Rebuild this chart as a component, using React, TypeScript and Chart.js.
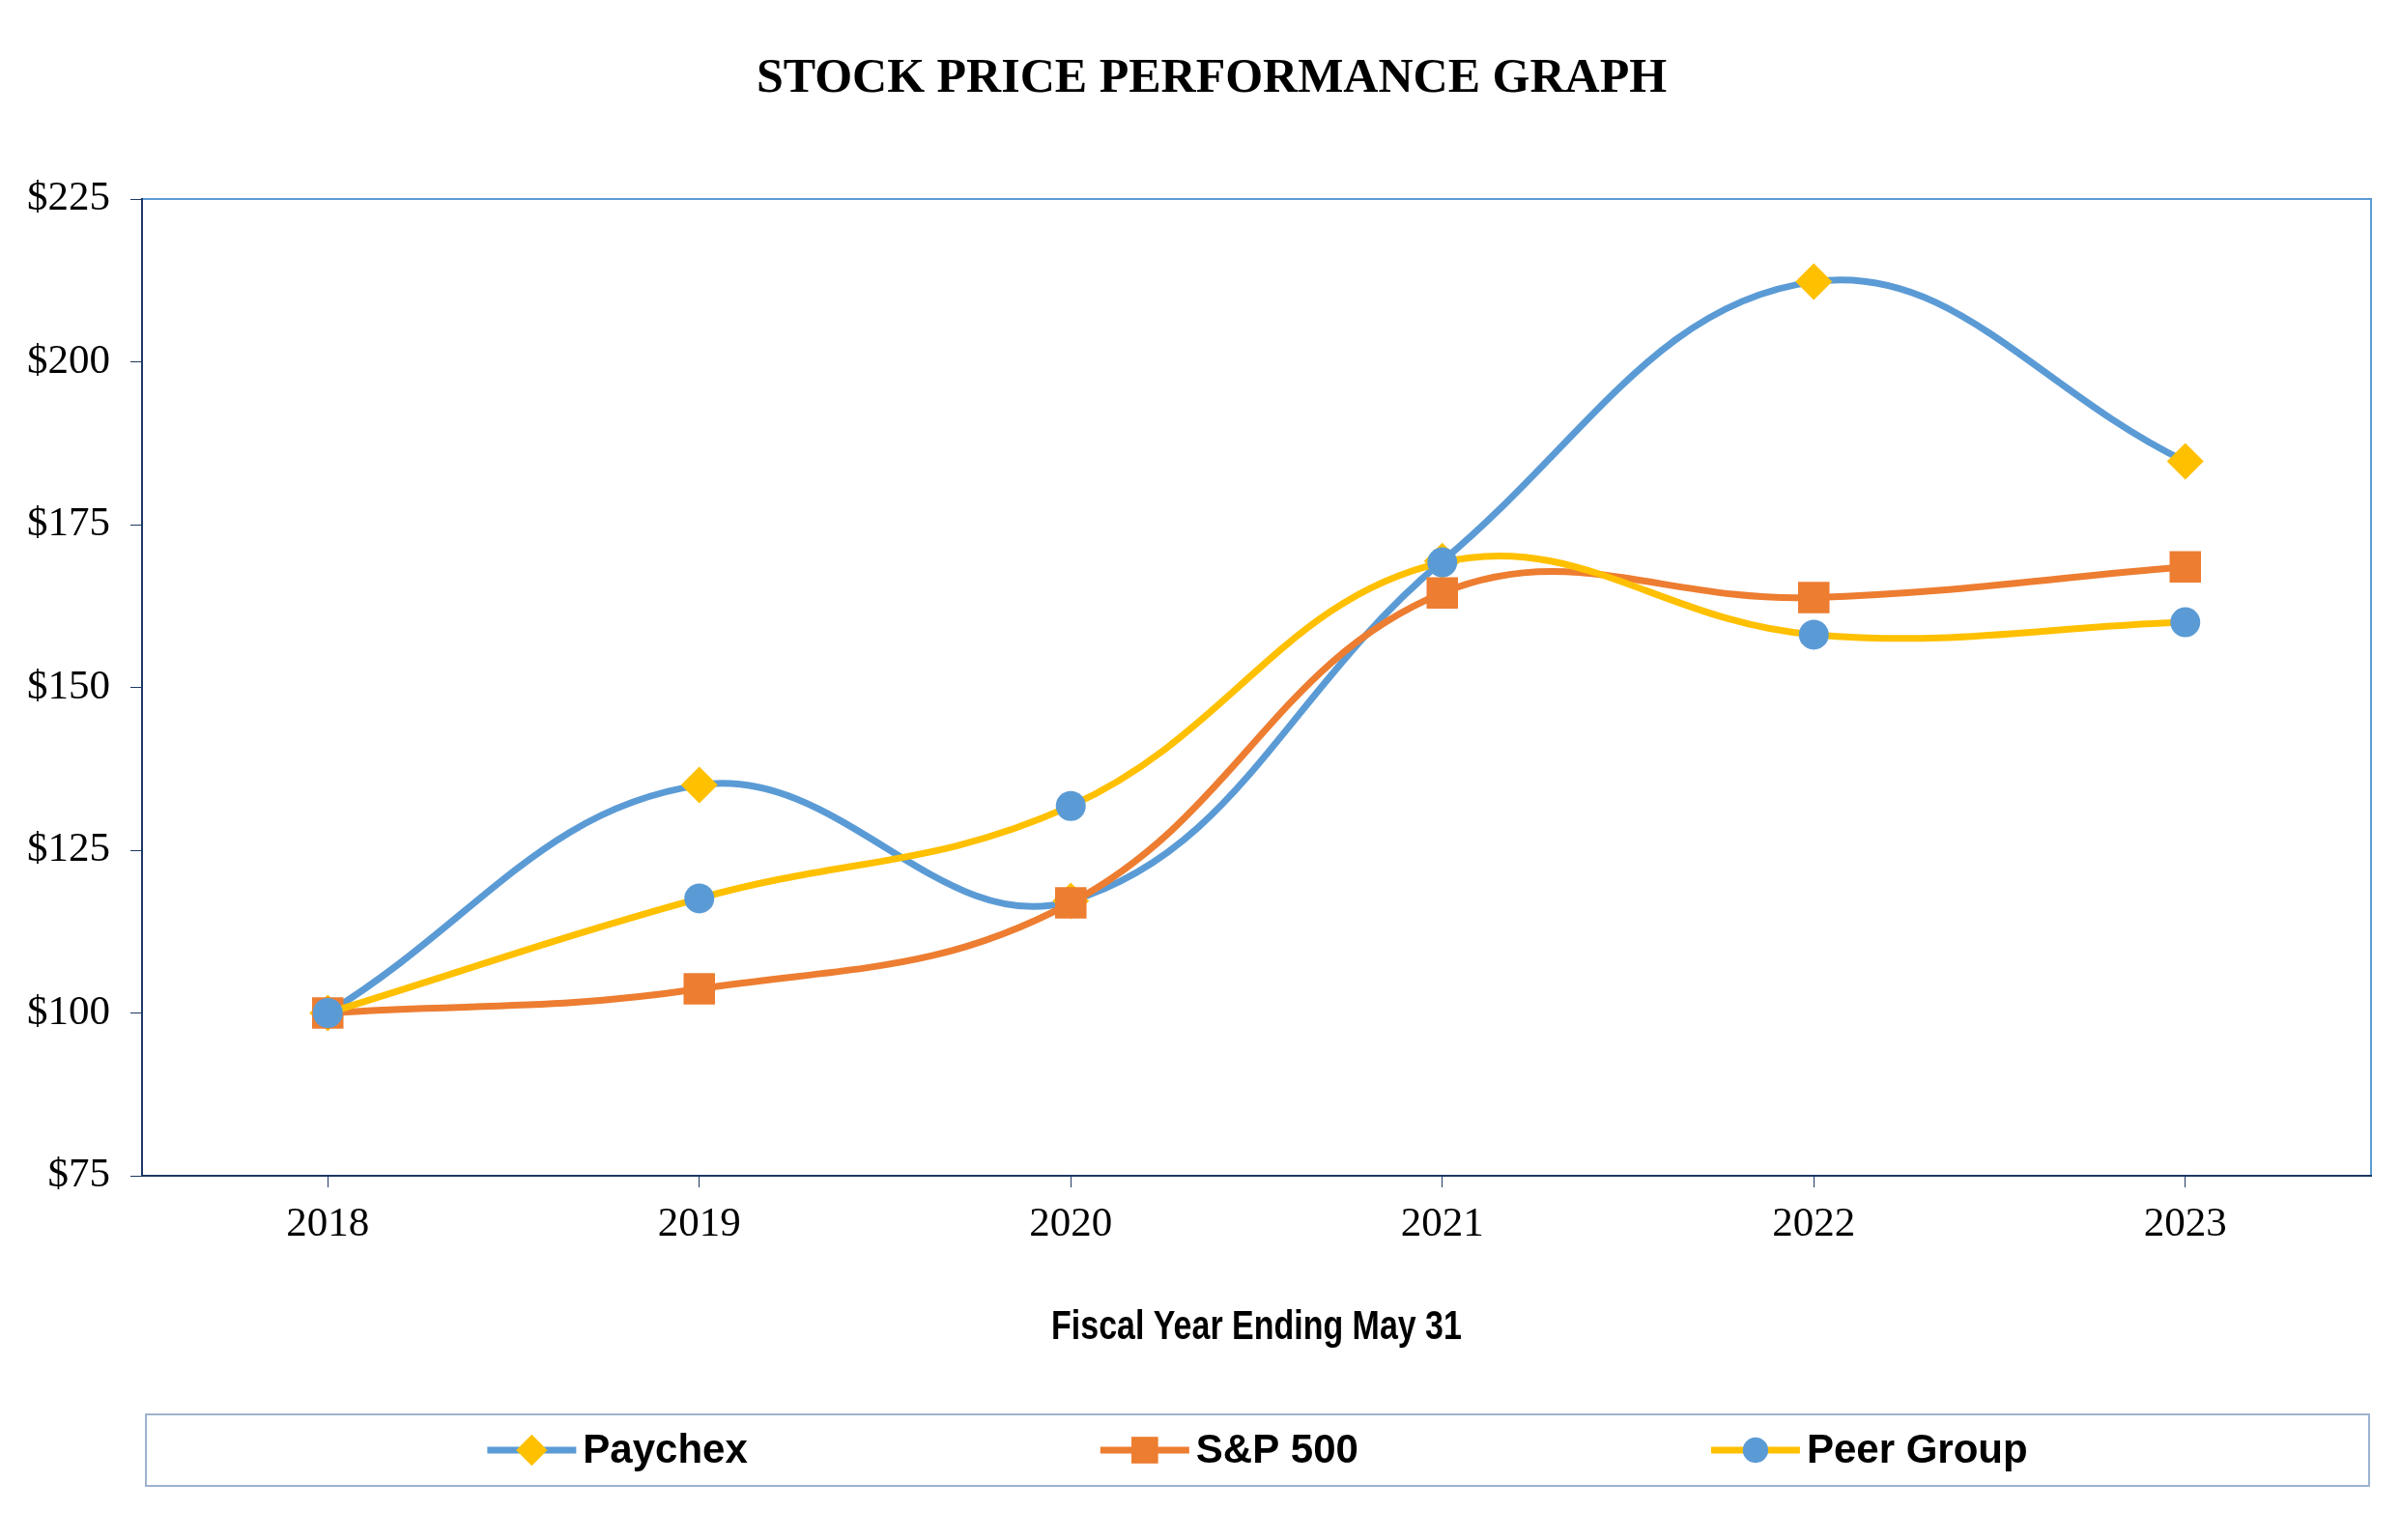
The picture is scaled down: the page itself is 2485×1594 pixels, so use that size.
import React, { useEffect, useRef } from 'react';
import { Chart, registerables } from 'chart.js';

Chart.register(...registerables);

const years = ['2018', '2019', '2020', '2021', '2022', '2023'];
const paychex = [100, 135.0, 117.2, 169.4, 212.3, 184.7];
const sp500 = [100, 103.7, 116.9, 164.5, 163.8, 168.5];
const peerGroup = [100, 117.6, 131.8, 169.2, 158.1, 160.0];
const yTickValues = [75, 100, 125, 150, 175, 200, 225];
const seriesNames = ['Paychex', 'S&P 500', 'Peer Group'];
const chartTitle = 'STOCK PRICE PERFORMANCE GRAPH';
const xAxisTitle = 'Fiscal Year Ending May 31';

const BLUE = '#5B9BD5';
const ORANGE = '#ED7D31';
const GOLD = '#FFC000';
const NAVY = '#1F3864';
const SERIF = '"Liberation Serif", "Times New Roman", serif';
const SANS = '"Liberation Sans", Arial, sans-serif';

function drawMarker(ctx: CanvasRenderingContext2D, style: string, x: number, y: number, r: number, color: string) {
  ctx.save();
  ctx.fillStyle = color;
  ctx.beginPath();
  if (style === 'rectRot') {
    ctx.moveTo(x, y - r);
    ctx.lineTo(x + r, y);
    ctx.lineTo(x, y + r);
    ctx.lineTo(x - r, y);
    ctx.closePath();
  } else if (style === 'rect') {
    const s = r * Math.SQRT1_2;
    ctx.rect(x - s, y - s, 2 * s, 2 * s);
  } else {
    ctx.arc(x, y, r, 0, Math.PI * 2);
  }
  ctx.fill();
  ctx.restore();
}

const decorPlugin = {
  id: 'decor',
  beforeDraw(chart: any) {
    const { ctx, chartArea: a } = chart;
    ctx.save();
    ctx.fillStyle = '#ffffff';
    ctx.fillRect(0, 0, chart.width, chart.height);
    ctx.strokeStyle = BLUE;
    ctx.lineWidth = 2;
    ctx.strokeRect(a.left, a.top, a.right - a.left, a.bottom - a.top);
    ctx.restore();
  },
  afterDraw(chart: any) {
    const { ctx, chartArea: a } = chart;
    ctx.save();
    // Title
    ctx.fillStyle = '#000';
    ctx.textAlign = 'center';
    ctx.textBaseline = 'middle';
    ctx.font = `bold 50px ${SERIF}`;
    ctx.fillText(chartTitle, 1254, 82);
    // X axis title (condensed, like Arial Narrow)
    ctx.save();
    ctx.font = `bold 43px ${SANS}`;
    const cx = (a.left + a.right) / 2;
    ctx.translate(cx, 1374);
    ctx.scale(0.79, 1);
    ctx.fillText(xAxisTitle, 0, 0);
    ctx.restore();

    // Legend box
    const boxL = 151, boxR = 2452, boxT = 1464, boxB = 1538;
    ctx.strokeStyle = '#9DB3CF';
    ctx.lineWidth = 2;
    ctx.strokeRect(boxL, boxT, boxR - boxL, boxB - boxT);

    ctx.font = `bold 42px ${SANS}`;
    ctx.textAlign = 'left';
    const sample = 92, textGap = 7, itemGap = 365;
    const items = chart.data.datasets.map((ds: any) => ({
      ds,
      w: sample + textGap + ctx.measureText(ds.label).width,
    }));
    const total = items.reduce((s: number, it: any) => s + it.w, 0) + itemGap * (items.length - 1);
    let x = (boxL + boxR) / 2 - total / 2;
    const cy = (boxT + boxB) / 2;
    for (const it of items) {
      const ds = it.ds;
      ctx.strokeStyle = ds.borderColor;
      ctx.lineWidth = ds.borderWidth;
      ctx.beginPath();
      ctx.moveTo(x, cy);
      ctx.lineTo(x + sample, cy);
      ctx.stroke();
      drawMarker(ctx, ds.pointStyle, x + sample / 2, cy, ds.pointRadius * 0.85, ds.pointBackgroundColor);
      ctx.fillStyle = '#000';
      ctx.fillText(ds.label, x + sample + textGap, cy + 1);
      x += it.w + itemGap;
    }
    ctx.restore();
  },
};

export default function App() {
  const ref = useRef<HTMLCanvasElement | null>(null);

  useEffect(() => {
    if (!ref.current) return;
    const chart = new Chart(ref.current, {
      type: 'line',
      data: {
        labels: years,
        datasets: [
          {
            label: seriesNames[0],
            data: paychex,
            borderColor: BLUE,
            borderWidth: 7,
            pointStyle: 'rectRot',
            pointRadius: 19,
            pointBackgroundColor: GOLD,
            pointBorderColor: GOLD,
            pointBorderWidth: 0,
            tension: 0.4,
            order: 2,
          },
          {
            label: seriesNames[1],
            data: sp500,
            borderColor: ORANGE,
            borderWidth: 7,
            pointStyle: 'rect',
            pointRadius: 23,
            pointBackgroundColor: ORANGE,
            pointBorderColor: ORANGE,
            pointBorderWidth: 0,
            tension: 0.4,
            order: 1,
          },
          {
            label: seriesNames[2],
            data: peerGroup,
            borderColor: GOLD,
            borderWidth: 7,
            pointStyle: 'circle',
            pointRadius: 15.5,
            pointBackgroundColor: BLUE,
            pointBorderColor: BLUE,
            pointBorderWidth: 0,
            tension: 0.4,
            order: 0,
          },
        ] as any,
      },
      options: {
        responsive: false,
        animation: false,
        devicePixelRatio: 1,
        layout: { padding: { top: 206, left: 0, right: 31, bottom: 0 } },
        plugins: {
          legend: { display: false },
          title: { display: false },
          tooltip: { enabled: false },
        },
        scales: {
          x: {
            type: 'category',
            offset: true,
            grid: {
              offset: false,
              drawOnChartArea: false,
              drawTicks: true,
              tickLength: 12,
              tickColor: NAVY,
              tickWidth: 1,
            },
            border: { color: NAVY, width: 2 },
            ticks: {
              color: '#000',
              padding: 13,
              font: { family: SERIF, size: 43 },
              maxRotation: 0,
            },
            afterFit: (s: any) => {
              s.height = 1594 - 1217;
            },
          },
          y: {
            min: 75,
            max: 225,
            grid: {
              drawOnChartArea: false,
              drawTicks: true,
              tickLength: 12,
              tickColor: NAVY,
              tickWidth: 1,
            },
            border: { color: NAVY, width: 2 },
            ticks: {
              color: '#000',
              padding: 21,
              font: { family: SERIF, size: 43 },
              callback: (v: any) => '$' + v,
            },
            afterBuildTicks: (s: any) => {
              s.ticks = yTickValues.map((v) => ({ value: v }));
            },
            afterFit: (s: any) => {
              s.width = 147;
            },
          },
        },
      } as any,
      plugins: [decorPlugin],
    });
    return () => chart.destroy();
  }, []);

  return (
    <div style={{ position: 'fixed', left: 0, top: 0, width: 2485, height: 1594, background: '#fff' }}>
      <canvas ref={ref} width={2485} height={1594} style={{ display: 'block' }} />
    </div>
  );
}
